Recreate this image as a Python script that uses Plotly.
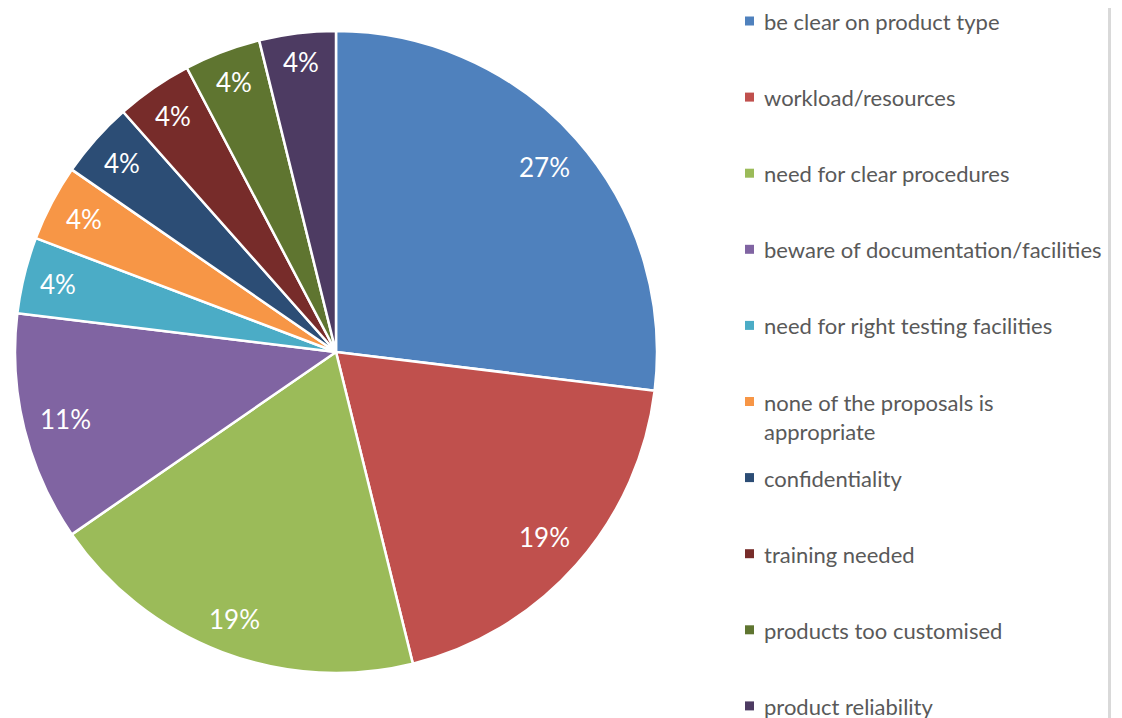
"""
Pie chart of proposal feedback, Excel-style with legend on the right.
"""

import math

import plotly.graph_objects as go

# ---- data ----
labels = [
    "be clear on product type",
    "workload/resources",
    "need for clear procedures",
    "beware of documentation/facilities",
    "need for right testing facilities",
    "none of the proposals is<br>appropriate",
    "confidentiality",
    "training needed",
    "products too customised",
    "product reliability",
]
counts = [7, 5, 5, 3, 1, 1, 1, 1, 1, 1]
pct_text = ["27%", "19%", "19%", "11%", "4%", "4%", "4%", "4%", "4%", "4%"]
colors = [
    "#4F81BD", "#C0504D", "#9BBB59", "#8064A2", "#4BACC6",
    "#F79646", "#2C4D75", "#772C2A", "#5F7530", "#4D3B62",
]

W, H = 1122, 718
FONT = "Lato"
TEXT_GREY = "#595959"
# the page body adds an 8px margin, so pull everything back by that much
OFF = 8


def px_x(x):
    return (x - OFF) / W


def px_y(y):
    return 1 - (y - OFF) / H


# pie geometry in pixels (page coordinates)
cx, cy, R = 336, 352, 321

fig = go.Figure(go.Pie(
    labels=[l.replace("<br>", " ") for l in labels],
    values=counts,
    sort=False,
    direction="clockwise",
    rotation=0,
    marker=dict(colors=colors, line=dict(color="#ffffff", width=2.5)),
    textinfo="none",
    hoverinfo="label+value+percent",
    domain=dict(x=[px_x(cx - R), px_x(cx + R)],
                y=[px_y(cy + R), px_y(cy - R)]),
    showlegend=False,
))

# percentage labels tucked against the outer edge of each slice (Excel "best fit")
LABEL_SIZE = 26
total = sum(counts)
cum = 0
for v, t in zip(counts, pct_text):
    mid = (cum + v / 2) / total * 2 * math.pi
    cum += v
    half_w = 0.5 * len(t) * 0.64 * LABEL_SIZE
    half_h = 11
    extent = half_w * abs(math.sin(mid)) + half_h * abs(math.cos(mid))
    r = R - 16 - extent
    fig.add_annotation(
        x=px_x(cx + r * math.sin(mid)), y=px_y(cy - r * math.cos(mid)),
        xref="paper", yref="paper",
        text=t, showarrow=False, xanchor="center", yanchor="middle",
        font=dict(family=FONT, size=LABEL_SIZE, color="#ffffff"),
    )

# legend drawn on the right, evenly spaced like Excel
first, step = 21, 76.1
for i, (lab, col) in enumerate(zip(labels, colors)):
    yc = first + step * i
    fig.add_shape(
        type="rect", xref="paper", yref="paper",
        x0=px_x(745), x1=px_x(754), y0=px_y(yc + 4.5), y1=px_y(yc - 4.5),
        fillcolor=col, line=dict(width=0),
    )
    fig.add_annotation(
        x=px_x(763), y=px_y(yc - 14), xref="paper", yref="paper",
        text=lab, showarrow=False, xanchor="left", yanchor="top", align="left",
        font=dict(family=FONT, size=22, color=TEXT_GREY),
        borderpad=0,
    )

# thin grey frame edge at the right
fig.add_shape(
    type="line", xref="paper", yref="paper",
    x0=px_x(1109.5), x1=px_x(1109.5), y0=px_y(730), y1=px_y(4),
    line=dict(color="#D9D9D9", width=3),
)

fig.update_layout(
    width=W,
    height=H,
    margin=dict(l=0, r=0, t=0, b=0),
    paper_bgcolor="#ffffff",
    plot_bgcolor="#ffffff",
    font=dict(family=FONT, color=TEXT_GREY),
)

fig.write_html("out.html")
